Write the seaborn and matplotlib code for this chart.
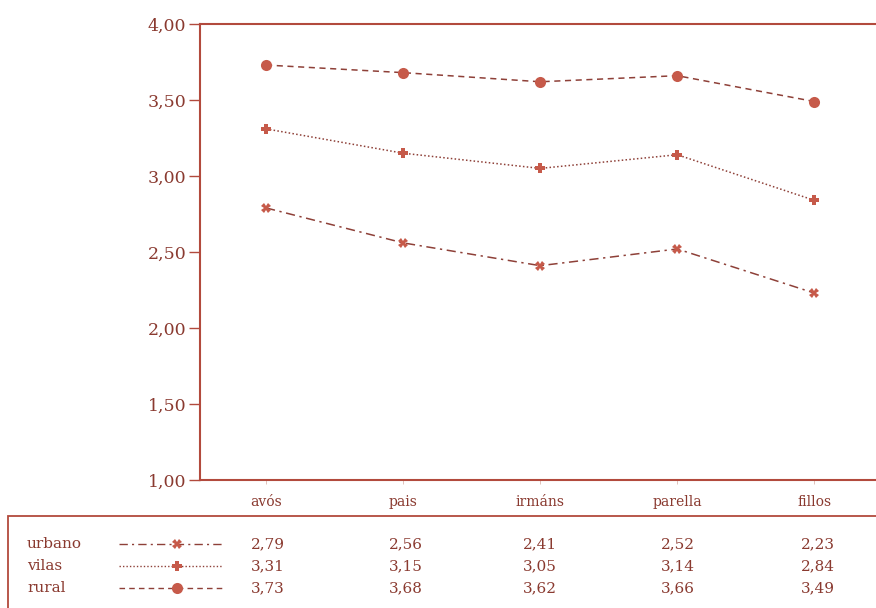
import numpy as np
import pandas as pd
import matplotlib
matplotlib.use("Agg")
import matplotlib.pyplot as plt
import seaborn as sns
from matplotlib.lines import Line2D
from matplotlib.patches import Rectangle

# datos
categorias = ["avós", "pais", "irmáns", "parella", "fillos"]
urbano = [2.79, 2.56, 2.41, 2.52, 2.23]
vilas = [3.31, 3.15, 3.05, 3.14, 2.84]
rural = [3.73, 3.68, 3.62, 3.66, 3.49]
series = ["urbano", "vilas", "rural"]
yticks = [1.0, 1.5, 2.0, 2.5, 3.0, 3.5, 4.0]

COR = "#b24a3d"      # eixos
LIN = "#8e4038"      # liñas
MARC = "#c65a4a"     # marcadores
TXT = "#8a3a30"

sns.set_theme(style="white")
plt.rcParams["font.family"] = ["DejaVu Serif", "Liberation Serif"]

fig = plt.figure(figsize=(8.76, 6.08), dpi=100)
ax = fig.add_axes([200 / 876, 1 - 480 / 608, 1 - 200 / 876, (480 - 24) / 608])

df = pd.DataFrame({"x": list(range(len(categorias))) * 3,
                   "valor": urbano + vilas + rural,
                   "serie": [s for s in series for _ in categorias]})

estilos = {
    "urbano": dict(ls=(0, (6, 3, 1.5, 3)), marker="X", ms=7, mew=0),
    "vilas": dict(ls=(0, (1, 1.5)), marker="P", ms=7, mew=0),
    "rural": dict(ls=(0, (4, 3)), marker="o", ms=8, mew=0),
}

for s in series:
    sub = df[df["serie"] == s]
    e = estilos[s]
    sns.lineplot(data=sub, x="x", y="valor", ax=ax, color=LIN, lw=1.1,
                 linestyle=e["ls"], marker=e["marker"], markersize=e["ms"],
                 markeredgewidth=e["mew"], markerfacecolor=MARC,
                 markeredgecolor=MARC)

ax.set_xlim(-0.482, 4.45)
ax.set_ylim(1.0, 4.0)
ax.set_yticks(yticks)
ax.set_yticklabels([f"{v:.2f}".replace(".", ",") for v in yticks],
                   fontsize=12.5, color=TXT)
ax.set_xticks(range(len(categorias)))
ax.set_xticklabels(categorias, fontsize=10, color=TXT)
ax.tick_params(axis="y", direction="out", length=8, width=1, color=COR, pad=2, left=True)
ax.tick_params(axis="x", direction="out", length=3, width=0.6, color="#dcb8b0", pad=8, bottom=True)
ax.set_xlabel("")
ax.set_ylabel("")
for lado in ["left", "top", "bottom"]:
    ax.spines[lado].set_color(COR)
    ax.spines[lado].set_linewidth(1.5)
ax.spines["right"].set_visible(False)

# táboa inferior
fig.add_artist(Rectangle((8 / 876, -0.05), 1, (608 - 516) / 608 + 0.05,
                         transform=fig.transFigure, fill=False,
                         edgecolor=COR, lw=1.3))

filas = {"urbano": urbano, "vilas": vilas, "rural": rural}
y_filas = [544, 566, 588]
x_valores = [268, 406, 540, 678, 818]
for s, yp in zip(series, y_filas):
    yf = 1 - yp / 608
    fig.text(27 / 876, yf, s, fontsize=11, color=TXT, va="center", ha="left")
    e = estilos[s]
    fig.add_artist(Line2D([119 / 876, 223 / 876], [yf, yf], transform=fig.transFigure,
                          color=LIN, lw=1.0, linestyle=e["ls"]))
    fig.add_artist(Line2D([177 / 876], [yf], transform=fig.transFigure,
                          marker=e["marker"], markersize=e["ms"],
                          markeredgewidth=e["mew"], markerfacecolor=MARC,
                          markeredgecolor=MARC, linestyle="none"))
    for xp, v in zip(x_valores, filas[s]):
        fig.text(xp / 876, yf, f"{v:.2f}".replace(".", ","), fontsize=11,
                 color=TXT, va="center", ha="center")

fig.savefig("out.png", dpi=100)
